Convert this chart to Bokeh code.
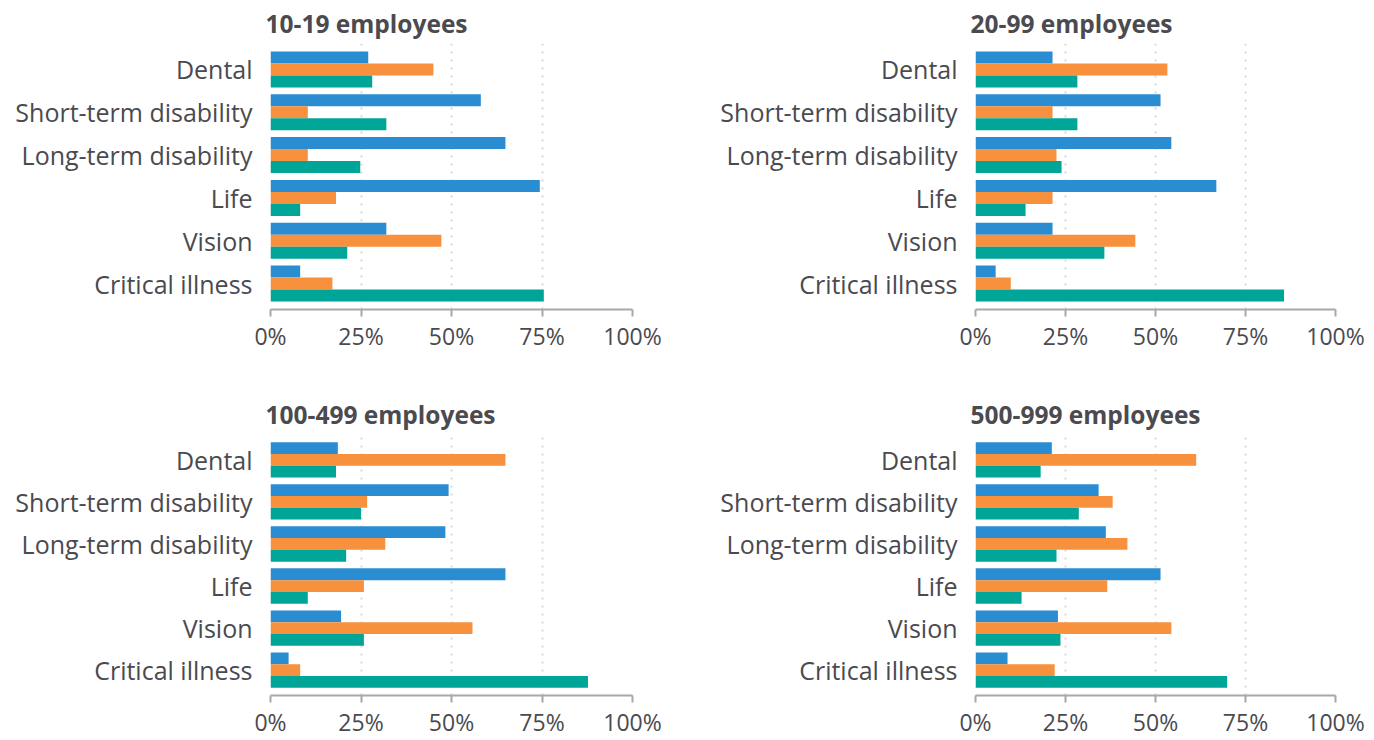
from bokeh.plotting import figure
from bokeh.layouts import column, row
from bokeh.models import FactorRange, FixedTicker, Title, ColumnDataSource
from bokeh.transform import dodge
from bokeh.embed import file_html
from bokeh.resources import INLINE

categories = ["Dental", "Short-term disability", "Long-term disability", "Life", "Vision", "Critical illness"]
panel_titles = ["10-19 employees", "20-99 employees", "100-499 employees", "500-999 employees"]

# three series per panel (blue, orange, teal), values in percent
blue_10_19 = [27.0, 58.1, 64.9, 74.4, 32.0, 8.2]
orange_10_19 = [45.0, 10.3, 10.3, 18.1, 47.2, 17.1]
teal_10_19 = [28.1, 32.0, 24.8, 8.2, 21.2, 75.5]

blue_20_99 = [21.4, 51.4, 54.4, 66.9, 21.4, 5.6]
orange_20_99 = [53.3, 21.4, 22.5, 21.4, 44.4, 9.8]
teal_20_99 = [28.3, 28.3, 23.9, 13.9, 35.8, 85.7]

blue_100_499 = [18.6, 49.2, 48.3, 64.9, 19.5, 5.0]
orange_100_499 = [64.9, 26.7, 31.7, 25.8, 55.8, 8.2]
teal_100_499 = [18.1, 25.0, 20.9, 10.3, 25.8, 87.7]

blue_500_999 = [21.2, 34.2, 36.2, 51.4, 22.9, 8.9]
orange_500_999 = [61.3, 38.1, 42.2, 36.6, 54.4, 22.0]
teal_500_999 = [18.1, 28.7, 22.5, 12.8, 23.6, 69.9]

x_ticks = [0, 25, 50, 75, 100]
x_tick_labels = {0: "0%", 25: "25%", 50: "50%", 75: "75%", 100: "100%"}

BLUE = "#2a8dd2"
ORANGE = "#f7913d"
TEXT = "#4a4a4f"
TEAL = "#00a598"
FONT = "Open Sans"


def make_panel(title, blue, orange, teal, width, height, left, top, bottom, right):
    src = ColumnDataSource(dict(cat=categories, blue=blue, orange=orange, teal=teal))
    yr = FactorRange(factors=list(reversed(categories)), range_padding=0.105,
                     range_padding_units="absolute")
    p = figure(width=width, height=height, y_range=yr, x_range=(0, 100),
               output_backend="svg", toolbar_location=None,
               min_border_left=left, min_border_right=right,
               min_border_top=top, min_border_bottom=bottom)
    p.outline_line_color = None
    p.background_fill_color = "white"
    p.border_fill_color = "white"
    h = 0.28
    p.hbar(y=dodge("cat", h, range=yr), right="blue", left=0, height=h, source=src,
           color=BLUE, line_color=None)
    p.hbar(y=dodge("cat", 0, range=yr), right="orange", left=0, height=h, source=src,
           color=ORANGE, line_color=None)
    p.hbar(y=dodge("cat", -h, range=yr), right="teal", left=0, height=h, source=src,
           color=TEAL, line_color=None)

    t = Title(text=title, align="left", offset=-5, text_font=FONT,
              text_font_size="24.5px", text_font_style="bold", text_color=TEXT,
              standoff=8)
    p.add_layout(t, "above")

    p.xaxis.ticker = FixedTicker(ticks=x_ticks)
    p.xaxis.major_label_overrides = x_tick_labels
    p.xaxis.major_label_text_font = FONT
    p.xaxis.major_label_text_font_size = "23px"
    p.xaxis.major_label_text_color = TEXT
    p.xaxis.axis_line_color = "#a8a8a8"
    p.xaxis.axis_line_width = 2
    p.xaxis.major_tick_line_color = "#a8a8a8"
    p.xaxis.major_tick_line_width = 2
    p.xaxis.major_tick_in = 0
    p.xaxis.major_tick_out = 7
    p.xaxis.minor_tick_line_color = None
    p.xaxis.major_label_standoff = 3

    p.yaxis.axis_line_color = None
    p.yaxis.major_tick_line_color = None
    p.yaxis.minor_tick_line_color = None
    p.yaxis.major_tick_in = 0
    p.yaxis.major_tick_out = 0
    p.yaxis.major_label_text_font = FONT
    p.yaxis.major_label_text_font_size = "25px"
    p.yaxis.major_label_text_color = TEXT
    p.yaxis.major_label_standoff = 18

    p.ygrid.grid_line_color = None
    p.xgrid.ticker = FixedTicker(ticks=[25, 50, 75])
    p.xgrid.grid_line_color = "#d8d8d8"
    p.xgrid.grid_line_dash = "2 6"
    p.xgrid.grid_line_width = 2
    return p


p1 = make_panel(panel_titles[0], blue_10_19, orange_10_19, teal_10_19,
                687, 378, 270, 43, 69, 55)
p2 = make_panel(panel_titles[1], blue_20_99, orange_20_99, teal_20_99,
                687, 378, 288, 43, 69, 39)
p3 = make_panel(panel_titles[2], blue_100_499, orange_100_499, teal_100_499,
                687, 362, 270, 56, 38, 55)
p4 = make_panel(panel_titles[3], blue_500_999, orange_500_999, teal_500_999,
                687, 362, 288, 56, 38, 39)

layout = column(row(p1, p2, spacing=0), row(p3, p4, spacing=0), spacing=0)
open("out.html", "w").write(file_html(layout, INLINE))
